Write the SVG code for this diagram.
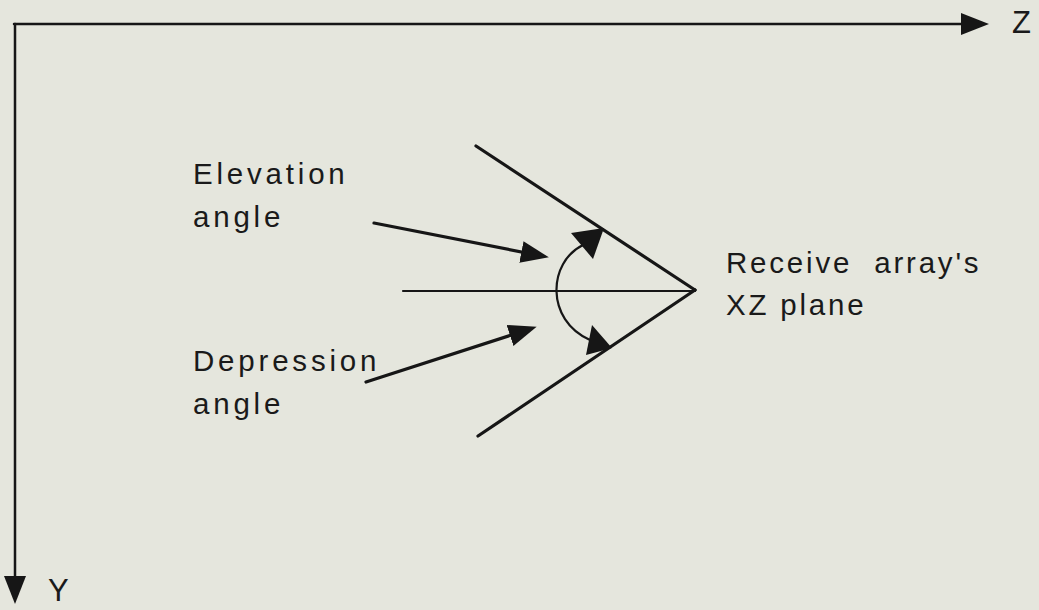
<svg xmlns="http://www.w3.org/2000/svg" width="1039" height="610" viewBox="0 0 1039 610">
<style>
.bg{fill:#e5e6dd}
.ln{stroke:#161616;fill:none;stroke-linecap:round}
.ax{stroke-width:2.5}
.ray{stroke-width:3.2}
.mid{stroke-width:2.2}
.head{fill:#161616;stroke:none}
text{font-family:"Liberation Sans",Arial,sans-serif;font-size:29.5px;fill:#1a1a1a}
.axl{font-size:31px}
.lbl{letter-spacing:3.8px}
.rl{letter-spacing:2.8px}
</style>
<defs>
<marker id="ah" markerUnits="userSpaceOnUse" markerWidth="28" markerHeight="24" viewBox="0 0 28 24" refX="21" refY="12" orient="auto">
<path d="M0,1 L28,12 L0,23 z" fill="#161616"/>
</marker>
</defs>
<rect class="bg" x="0" y="0" width="1039" height="610"/>
<g id="connectors">
<path id="z-axis" class="ln ax" d="M14,24 L982,24" marker-end="url(#ah)"/>
<path id="y-axis" class="ln ax" d="M15,24 L15,597" marker-end="url(#ah)"/>
<path id="upper-ray" class="ln ray" d="M476,146 L695,290"/>
<path id="lower-ray" class="ln ray" d="M478,436 L695,290"/>
<path id="mid-line" class="ln mid" d="M403,291 L695,291"/>
<path id="elev-arrow" class="ln ray" d="M374,223 L542,256" marker-end="url(#ah)"/>
<path id="dep-arrow" class="ln ray" d="M366,382 L530,329" marker-end="url(#ah)"/>
<path id="angle-arc" class="ln mid" d="M583,245 C548,262 545,320 590,340"/>
<polygon class="head" points="571,233 604,228 593,259"/>
<polygon class="head" points="592,325 612,348 586,355"/>
</g>
<g id="label-z"><text class="axl" x="1012" y="33">Z</text></g>
<g id="label-y"><text class="axl" x="48" y="601">Y</text></g>
<g id="label-elevation"><text class="lbl" x="193" y="184">Elevation</text><text class="lbl" x="193" y="227">angle</text></g>
<g id="label-depression"><text class="lbl" x="193" y="371">Depression</text><text class="lbl" x="193" y="414">angle</text></g>
<g id="label-plane"><text class="rl" x="726" y="273" word-spacing="11">Receive array's</text><text class="rl" x="726" y="315">XZ plane</text></g>
</svg>
